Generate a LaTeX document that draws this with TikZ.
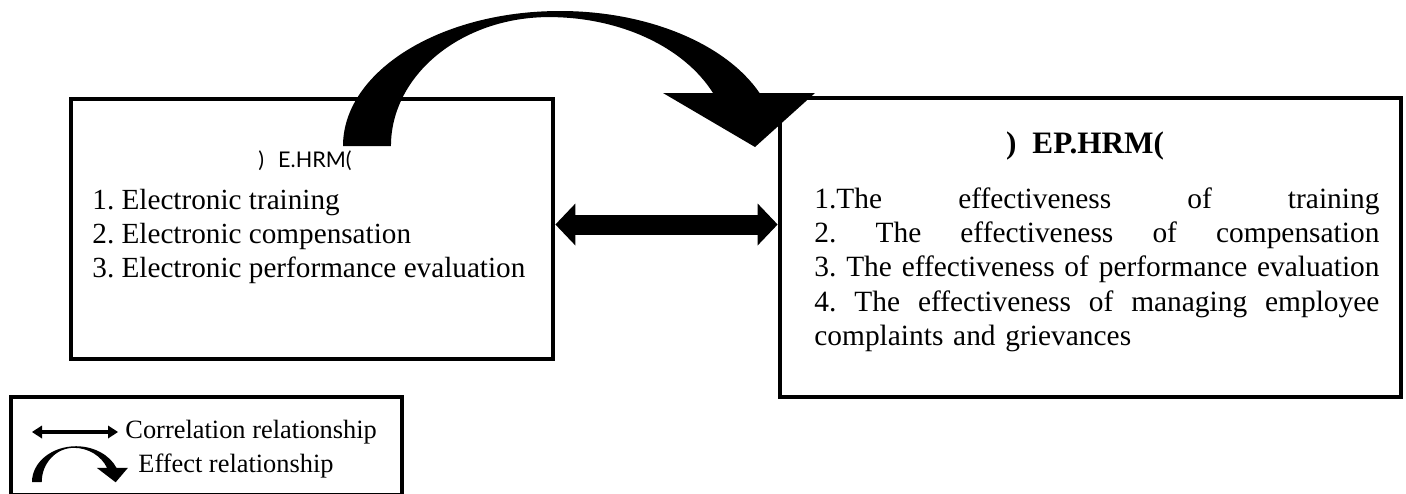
\documentclass[tikz,border=0pt]{standalone}
\usepackage{fontspec}
\setmainfont{Liberation Serif}
\newfontfamily\titlesans{Lato}
\usetikzlibrary{arrows.meta}
\frenchspacing

% curved "effect" arrow, origin at the lower left corner of its tail
\tikzset{
  effect arrow/.pic={
    \fill (0,0) arc[start angle=180,end angle=336.9,x radius=217,y radius=135]
      -- (472,-53) -- (412,1) -- (320,-53) -- (370,-53)
      arc[start angle=335.7,end angle=270,x radius=180,y radius=129]
      arc[start angle=270,end angle=180,x radius=158,y radius=129] -- cycle;
  }
}
\newcommand{\fullline}[1]{\makebox[282.5pt][s]{#1}}

\begin{document}
\begin{tikzpicture}[x=0.5pt,y=-0.5pt,
  box/.style={draw,line width=2.4pt,inner sep=0pt},
  txt/.style={inner sep=0pt,anchor=base west},
  corr/.style={line width=10pt,
    {Triangle[length=10pt,width=21pt,line width=0pt]}-{Triangle[length=10pt,width=21pt,line width=0pt]}},
  corrsmall/.style={line width=2.3pt,
    {Triangle[length=5pt,width=6.5pt,line width=0pt]}-{Triangle[length=5pt,width=6.5pt,line width=0pt]}}]
  \useasboundingbox (0,0) rectangle (1406,493);

  % the two boxes
  \node[box,minimum width=241pt,minimum height=130pt] (ehrm) at (312,229) {};
  \node[box,minimum width=310.5pt,minimum height=149.5pt] (ephrm) at (1090.5,247.5) {};

  % align only: base = last line; with text width: base = first line
  \node[inner sep=0pt,anchor=base,font=\titlesans\fontsize{10.8}{12}\selectfont] (ehrmtitle) at (305,167) {)\hspace{7pt}E.HRM(};
  \node[txt,align=left,font=\fontsize{14.6}{17.2}\selectfont] (ehrmlist) at (92,277.8)
    {1. Electronic training\\2. Electronic compensation\\3. Electronic performance evaluation};

  \node[inner sep=0pt,anchor=base,font=\bfseries\fontsize{15.6}{18}\selectfont] (ephrmtitle) at (1085,153) {)\hspace{8pt}EP.HRM(};
  \node[txt,text width=282.5pt,align=left,font=\fontsize{14.7}{17.2}\selectfont] (ephrmlist) at (814,208)
    {\fullline{1.The\hfill effectiveness\hfill of\hfill training}\\
     \fullline{2.\hfill The\hfill effectiveness\hfill of\hfill compensation}\\
     \fullline{3. The effectiveness of performance evaluation\hfill}\\
     \fullline{4.\hfill The\hfill effectiveness\hfill of\hfill managing\hfill employee}\\
     complaints and grievances};

  % relations
  \path ([yshift=2.25pt]ehrm.east) coordinate (corrstart);
  \draw[corr] (corrstart) -- (corrstart -| ephrm.west);
  \pic at (343,146) {effect arrow};

  % legend
  \node[box,minimum width=195.5pt,minimum height=49pt] (legend) at (206.5,446) {};
  \node[txt,font=\fontsize{13.2}{15}\selectfont] (corrtext) at (125,438) {Correlation relationship};
  \node[txt,font=\fontsize{13.2}{15}\selectfont] (efftext) at (138,472) {Effect relationship};
  \coordinate (corrleft) at (32,432);
  \draw[corrsmall] (corrleft) -- ([xshift=-3.5pt]corrleft -| corrtext.west);
  \pic[xscale=0.203,yscale=0.265] at (32,482) {effect arrow};
\end{tikzpicture}
\end{document}
